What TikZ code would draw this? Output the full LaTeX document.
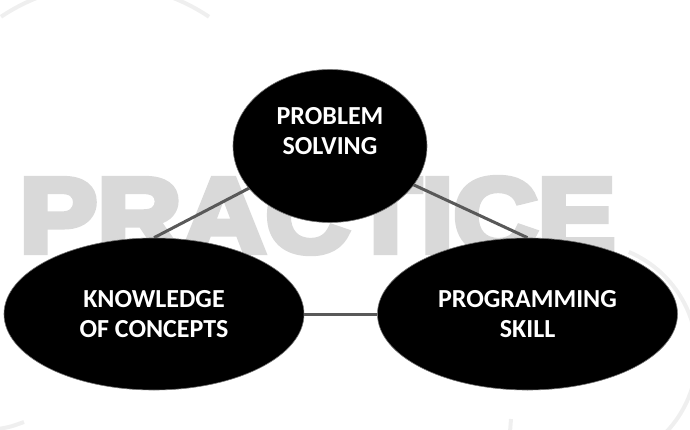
\documentclass[tikz,border=0pt]{standalone}
\usepackage{fontspec}
\usepackage{graphicx}
\setmainfont{Carlito}
\newfontfamily\practicefont[FakeBold=6]{Liberation Sans Bold}
\usetikzlibrary{shapes.geometric,backgrounds}
\definecolor{linkgray}{HTML}{595959}
\definecolor{wordgray}{HTML}{D9D9D9}
\definecolor{ringgray}{HTML}{EFEFEF}
\tikzset{
    blob/.style = {draw=black!55, line width=0.6pt, fill=black, ellipse,
        inner sep=0pt, text=white, align=center,
        font=\bfseries\fontsize{26}{30}\selectfont},
    wideblob/.style = {blob, minimum width=300pt, minimum height=152pt},
    link/.style = {draw=linkgray, line width=3pt},
    ring/.style = {draw=ringgray, line width=4pt},
    backword/.style = {text=wordgray, inner sep=0pt, anchor=base,
        font=\practicefont\fontsize{106}{106}\selectfont}
}

\begin{document}
\begin{tikzpicture}[x=1pt, y=-1pt, node distance=168pt]
    \useasboundingbox (0,0) rectangle (690,430);
    \node [blob, minimum width=194pt, minimum height=153pt] (solve) at (330,146) {PROBLEM\\SOLVING\\\mbox{}};
    \node [wideblob, below of=solve, xshift=-176pt] (know) {KNOWLEDGE\\OF CONCEPTS};
    \node [wideblob, below of=solve, xshift=197.5pt] (skill) {PROGRAMMING\\SKILL};
    \begin{scope}[on background layer]
        % big word behind everything
        \node [backword] (word) at (317.5,252) {\scalebox{1.1}[1]{PRACTICE}};
        % faint rings of the slide
        \draw [ring] (105,171) ++(-124:186) arc [start angle=-124, end angle=-56, radius=186];
        \draw [ring] (585,355) ++(-67:112) arc [start angle=-67, end angle=50, radius=112];
        \draw [ring] (-2,429) .. controls (10,427) .. (24,422);
        \draw [ring] (511,419) -- (510,432);
        % connectors
        \draw [link] (solve.center) -- (know.north);
        \draw [link] (solve.center) -- (skill.north);
        \draw [link] (know.east) -- (skill.west);
    \end{scope}
\end{tikzpicture}
\end{document}
